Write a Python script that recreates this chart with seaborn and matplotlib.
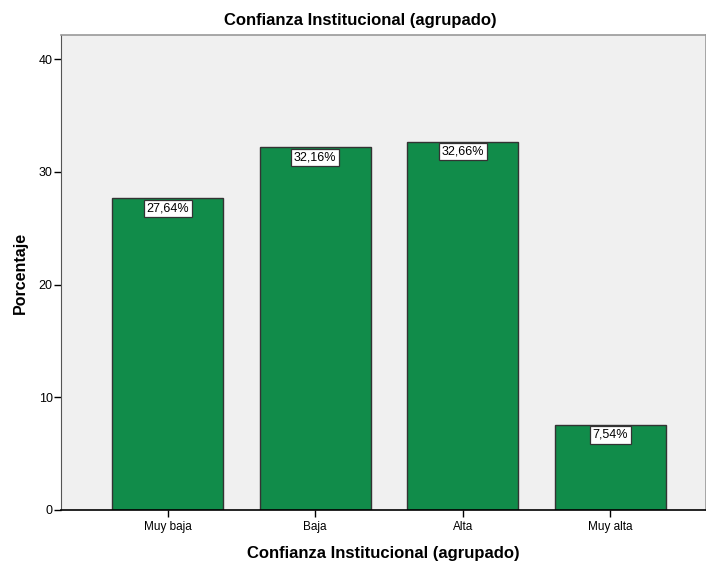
import matplotlib
matplotlib.use("Agg")
import matplotlib.pyplot as plt
import seaborn as sns
import pandas as pd

categories = ["Muy baja", "Baja", "Alta", "Muy alta"]
values = [27.64, 32.16, 32.66, 7.54]
labels = ["27,64%", "32,16%", "32,66%", "7,54%"]
yticks = [0, 10, 20, 30, 40]

sns.set_style("white")
plt.rcParams['font.family'] = ['Liberation Sans', 'DejaVu Sans']
plt.rcParams['text.color'] = 'black'
plt.rcParams['axes.labelcolor'] = 'black'
plt.rcParams['xtick.color'] = 'black'
plt.rcParams['ytick.color'] = 'black'

df = pd.DataFrame({"cat": categories, "val": values})

fig = plt.figure(figsize=(7.06, 5.63), dpi=100)
ax = fig.add_axes([61/706, 53/563, 1 - 61/706, (510-35)/563])
ax.set_facecolor("#F0F0F0")

sns.barplot(data=df, x="cat", y="val", color="#118C4A", saturation=1,
            width=0.75, edgecolor="#333333", linewidth=1.0, ax=ax)

ax.set_xlim(-0.722, 3.648)
ax.set_ylim(0, 42.13)
ax.set_yticks(yticks)
ax.set_yticklabels([str(t) for t in yticks], fontsize=9)
ax.tick_params(axis='x', labelsize=8.5, length=5, width=1, direction='out', bottom=True, color='black', pad=3)
ax.tick_params(axis='y', length=5, width=1, direction='out', left=True, color='black', pad=1)

for i, (v, lab) in enumerate(zip(values, labels)):
    ax.text(i, v - 0.35, lab, ha='center', va='top', fontsize=9, color='black',
            bbox=dict(boxstyle='square,pad=0.22', facecolor='white', edgecolor='#333333', linewidth=0.9))

for s in ['top', 'right']:
    ax.spines[s].set_color('#999999')
    ax.spines[s].set_linewidth(1.2)
ax.spines['left'].set_color('#555555')
ax.spines['bottom'].set_color('black')
ax.spines['bottom'].set_linewidth(1.2)

ax.set_xlabel("Confianza Institucional (agrupado)", fontsize=12, fontweight='bold', labelpad=9)
ax.set_ylabel("Porcentaje", fontsize=11.5, fontweight='bold', labelpad=8)
fig.text(360/706, 1 - 20/563, "Confianza Institucional (agrupado)", ha='center', va='center',
         fontsize=12, fontweight='bold')

fig.savefig("out.png", dpi=100)
